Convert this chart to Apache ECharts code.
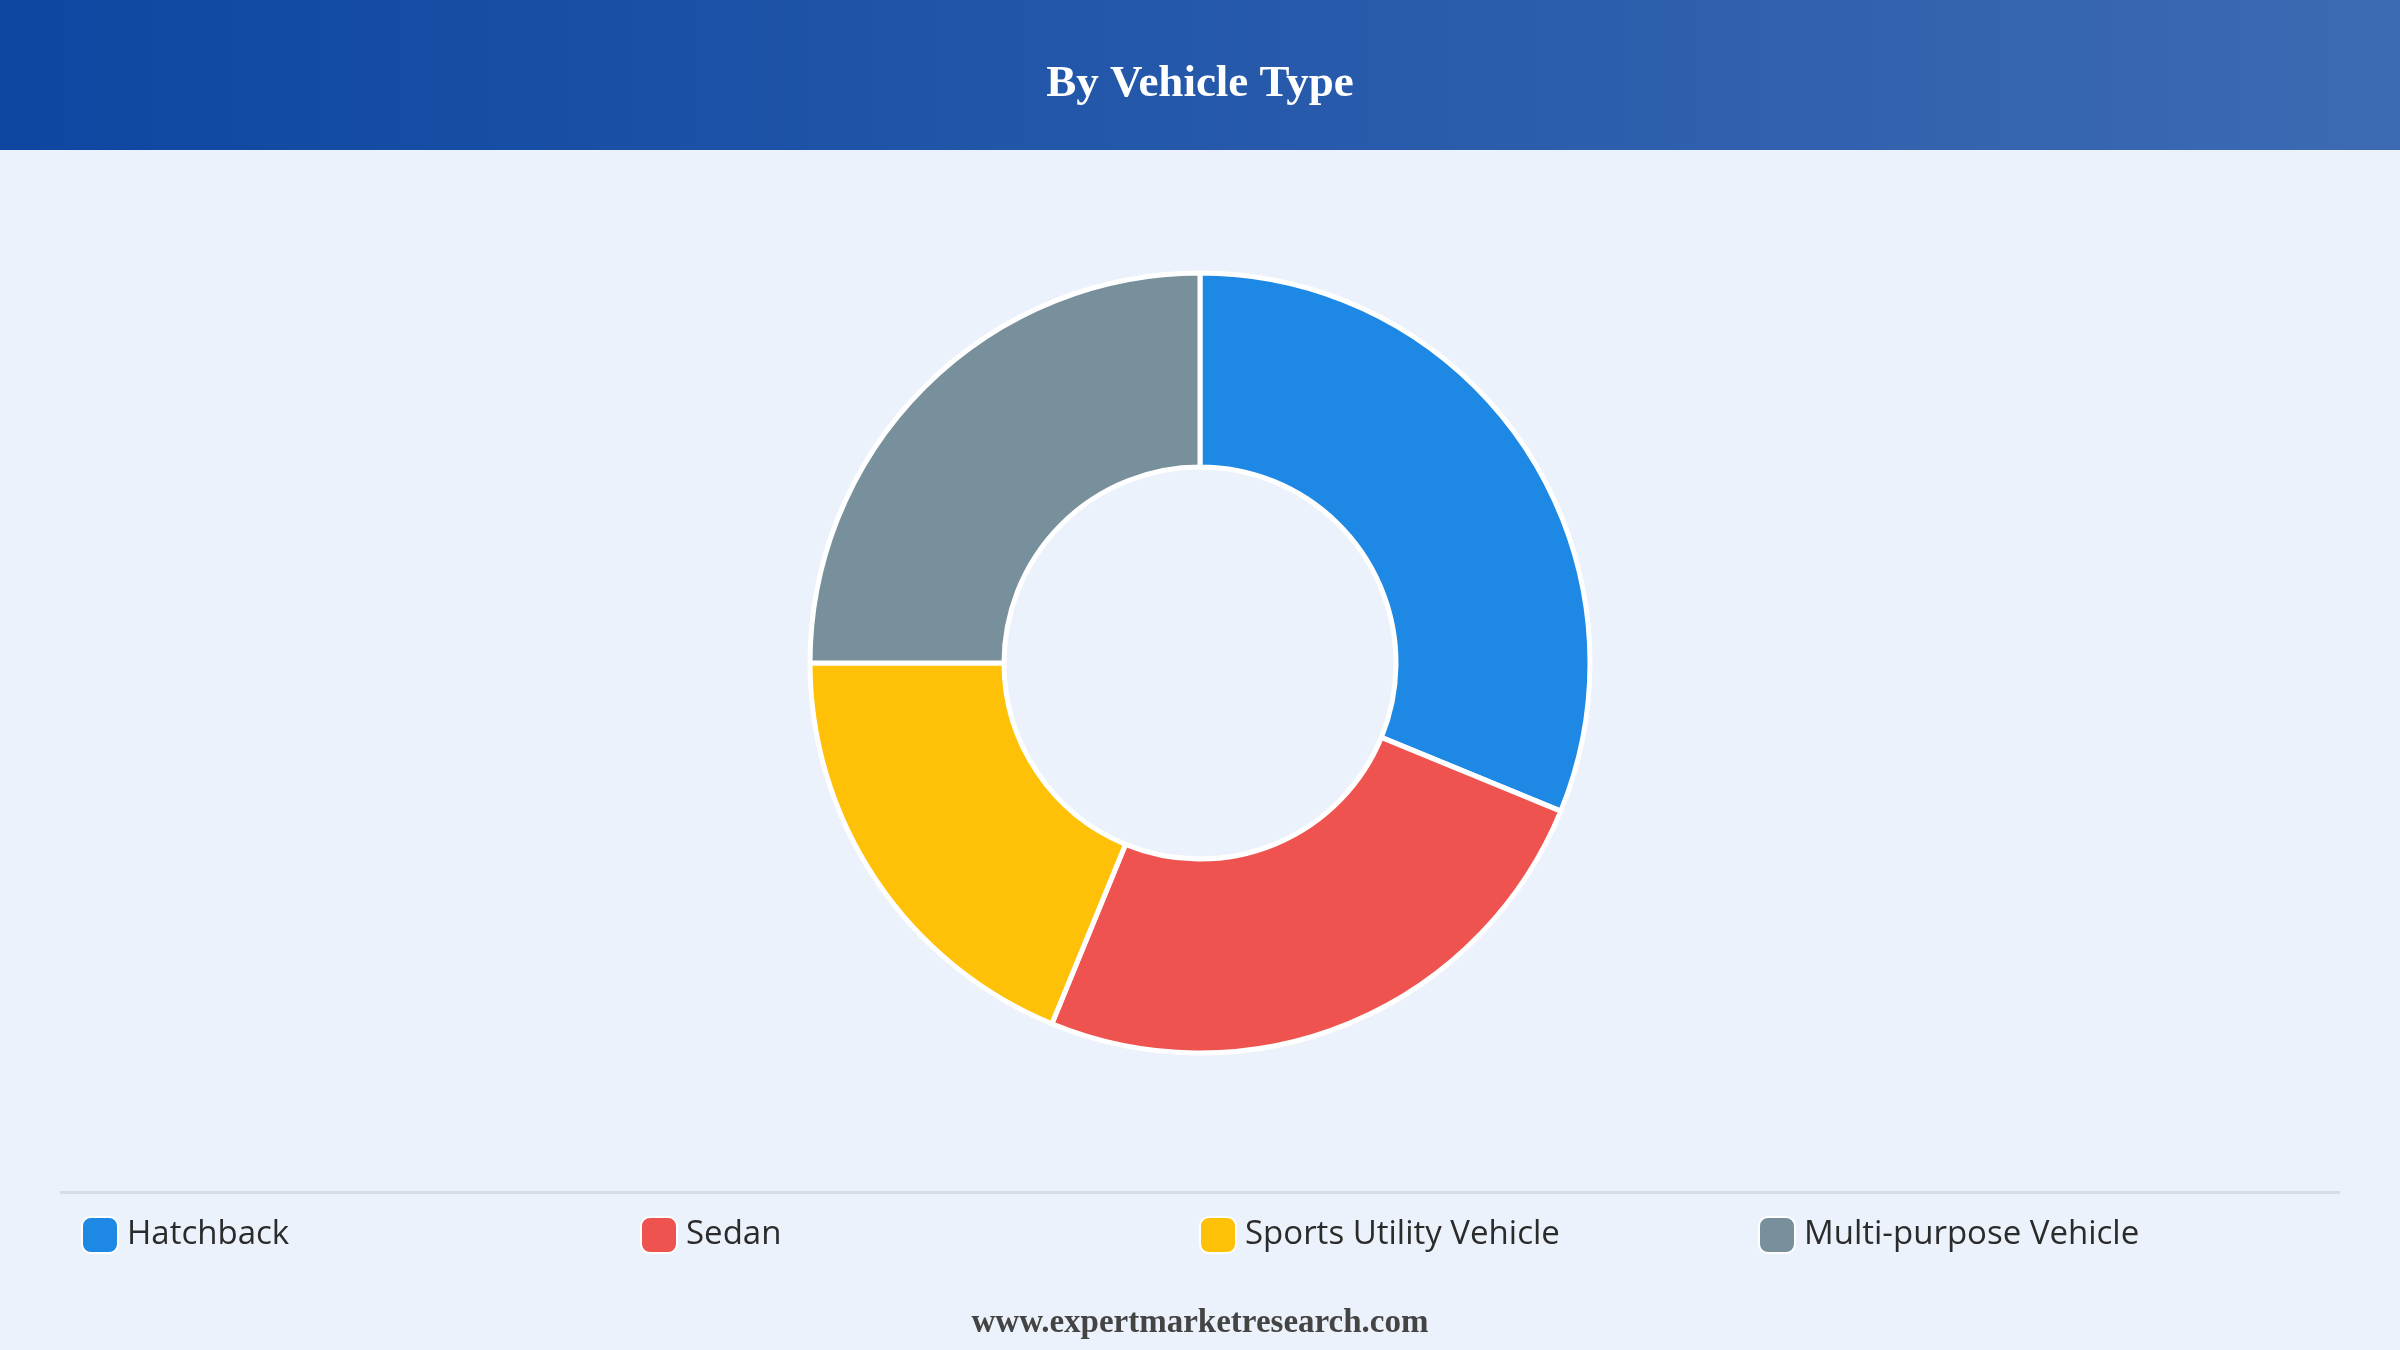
<!DOCTYPE html>
<html>
<head>
<meta charset="utf-8">
<script src="https://cdn.jsdelivr.net/npm/echarts@6/dist/echarts.min.js"></script>
<style>
  html, body { margin: 0; padding: 0; background: #ebf2fb; }
  #chart { width: 2400px; height: 1350px; }
</style>
</head>
<body>
<div id="chart"></div>
<script>
const categories = ['Hatchback', 'Sedan', 'Sports Utility Vehicle', 'Multi-purpose Vehicle'];
const shares = [31.2, 25, 18.8, 25];
const colors = ['#1e88e5', '#ef5350', '#ffc107', '#78909c'];
const legendLeft = [76, 635, 1194, 1753];

const chart = echarts.init(document.getElementById('chart'));

chart.setOption({
  backgroundColor: '#ebf2fb',
  graphic: [
    {
      type: 'rect',
      shape: { x: 0, y: 0, width: 2400, height: 150 },
      style: {
        fill: new echarts.graphic.LinearGradient(0, 0, 1, 0, [
          { offset: 0, color: '#0d47a1' },
          { offset: 1, color: '#3d6ab3' }
        ])
      },
      z: 0
    },
    {
      type: 'text',
      left: 'center',
      top: 62,
      style: { text: 'By Vehicle Type', fill: '#fff', font: 'bold 45px "Liberation Serif", serif' }
    },
    {
      type: 'rect',
      shape: { x: 60, y: 1191, width: 2280, height: 3 },
      style: { fill: '#d8dde3' }
    },
    {
      type: 'text',
      left: 'center',
      top: 1307,
      style: { text: 'www.expertmarketresearch.com', fill: '#444', font: 'bold 33px "Liberation Serif", serif' }
    }
  ],
  legend: categories.map((name, i) => ({
    left: legendLeft[i],
    top: 1211,
    itemWidth: 36,
    itemHeight: 36,
    itemGap: 14,
    icon: 'roundRect',
    data: [name],
    textStyle: {
      fontSize: 33,
      fontWeight: 500,
      color: '#2b2b2b',
      fontFamily: '"Open Sans", "Noto Sans", sans-serif',
      padding: [0, 0, 0, 4]
    }
  })),
  series: [
    {
      type: 'pie',
      center: [1200, 663],
      radius: [196, 390],
      startAngle: 90,
      clockwise: true,
      label: { show: false },
      labelLine: { show: false },
      itemStyle: { borderColor: '#fff', borderWidth: 5 },
      data: categories.map((name, i) => ({
        name,
        value: shares[i],
        itemStyle: { color: colors[i] }
      }))
    }
  ]
});
</script>
</body>
</html>
